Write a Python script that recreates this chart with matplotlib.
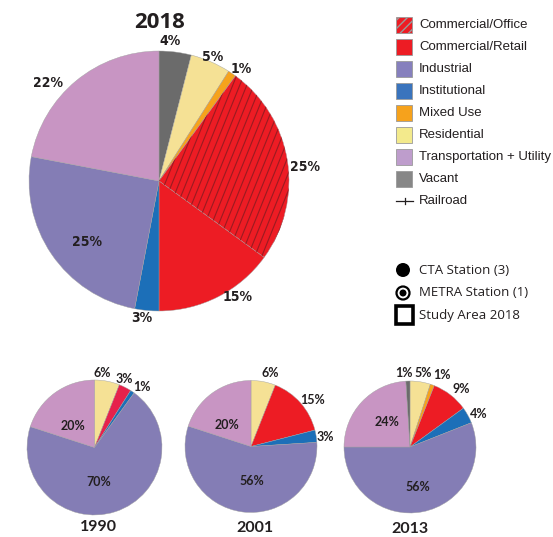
import matplotlib.pyplot as plt
from matplotlib.patches import Rectangle, Circle
from matplotlib.collections import LineCollection
import numpy as np

# land use categories, in clockwise order from 12 o'clock
categories = ['Vacant', 'Residential', 'Mixed Use', 'Commercial/Office',
              'Commercial/Retail', 'Institutional', 'Industrial',
              'Transportation + Utility']
share_2018 = [4, 5, 1, 25, 15, 3, 25, 22]

cats_1990 = ['Residential', 'Commercial/Retail', 'Institutional', 'Industrial',
             'Transportation + Utility']
share_1990 = [6, 3, 1, 70, 20]

cats_2001 = ['Residential', 'Commercial/Retail', 'Institutional', 'Industrial',
             'Transportation + Utility']
share_2001 = [6, 15, 3, 56, 20]

cats_2013 = ['Residential', 'Mixed Use', 'Commercial/Retail', 'Institutional',
             'Industrial', 'Transportation + Utility', 'Vacant']
share_2013 = [5, 1, 9, 4, 56, 24, 1]

legend_items = ['Commercial/Office', 'Commercial/Retail', 'Industrial',
                'Institutional', 'Mixed Use', 'Residential',
                'Transportation + Utility', 'Vacant']
station_items = ['CTA Station (3)', 'METRA Station (1)', 'Study Area 2018']

colors = {
    'Commercial/Office': '#ed1c24',
    'Commercial/Retail': '#ed1c24',
    'Industrial': '#847db5',
    'Institutional': '#1c6fb8',
    'Mixed Use': '#f6a21c',
    'Residential': '#f5e195',
    'Transportation + Utility': '#c895c3',
    'Vacant': '#6b6b6b',
}
legend_colors = dict(colors, **{'Residential': '#f3ea8c', 'Vacant': '#878787',
                                'Transportation + Utility': '#be9dcc',
                                'Industrial': '#8680bd', 'Institutional': '#3a74bd'})

W, H = 553, 537
fig = plt.figure(figsize=(W / 100, H / 100), dpi=100)
dark = '#231f20'


def pie_axes(cx, cy, r):
    return fig.add_axes([(cx - 1.25 * r) / W, 1 - (cy + 1.25 * r) / H, 2.5 * r / W, 2.5 * r / H])


# label placement: (radius, angle nudge in degrees, clockwise positive)
def draw_pie(ax, cats, vals, place, font, size, cmap=colors, **kw):
    cols = [cmap[c] for c in cats]
    wedges, _ = ax.pie(vals, colors=cols, startangle=90, counterclock=False,
                       wedgeprops=dict(edgecolor='#a0a0a0', linewidth=0.3), frame=True)
    ax.set_xlim(-1.25, 1.25)
    ax.set_ylim(-1.25, 1.25)
    ax.set_aspect('equal')
    ax.axis('off')
    total = float(sum(vals))
    cum = np.cumsum([0] + list(vals))
    for i, v in enumerate(vals):
        d, nudge = place[i]
        mid = (cum[i] + cum[i + 1]) / 2 / total
        th = np.deg2rad(90 - 360 * mid - nudge)
        ax.text(d * np.cos(th), d * np.sin(th), '%d%%' % v, ha='center', va='center',
                fontsize=size, fontweight='bold', family=font, color=dark, **kw)
    return wedges


narrow = ['Liberation Sans Narrow', 'DejaVu Sans']

# main 2018 pie
ax = pie_axes(159, 181, 130)
wedges = draw_pie(ax, categories, share_2018,
                  [(1.08, -2.5), (1.04, 0), (1.07, 2), (1.13, 3.5), (1.08, -7),
                   (1.06, 2), (0.73, -6), (1.14, -9)],
                  narrow, 10, fontstretch='condensed')
# steep stripes on the office slice
office = wedges[categories.index('Commercial/Office')]
ang = np.deg2rad(68)
u = np.array([np.cos(ang), np.sin(ang)])
n = np.array([np.sin(ang), -np.cos(ang)])
segs = [[tuple(k * n - 1.5 * u), tuple(k * n + 1.5 * u)] for k in np.arange(-1.5, 1.5, 0.05)]
lc = LineCollection(segs, colors='#9a1b21', linewidths=0.8)
ax.add_collection(lc)
lc.set_clip_path(office)

fig.text(160 / W, 1 - 22 / H, '2018', ha='center', va='center', fontsize=16,
         fontweight='bold', family=['Open Sans', 'DejaVu Sans'], color=dark)

small_font = ['Lato', 'DejaVu Sans']
c1990 = dict(colors, **{'Commercial/Retail': '#e6224b'})
ax = pie_axes(94.5, 447.5, 67.5)
draw_pie(ax, cats_1990, share_1990,
         [(1.11, -5), (1.11, -3.5), (1.14, 4), (0.52, 11.5), (0.45, -8)],
         small_font, 9, cmap=c1990)
ax = pie_axes(251, 446.5, 66)
draw_pie(ax, cats_2001, share_2001,
         [(1.15, 4), (1.17, 4), (1.13, 2), (0.52, -9), (0.49, -12)],
         small_font, 9)
ax = pie_axes(410, 447, 66)
draw_pie(ax, cats_2013, share_2013,
         [(1.14, 1), (1.19, 4), (1.17, 4), (1.15, 3), (0.62, 0), (0.51, 4), (1.13, -3)],
         small_font, 9)

for x, y, t in [(98, 527, '1990'), (255, 528, '2001'), (410, 529, '2013')]:
    fig.text(x / W, 1 - y / H, t, ha='center', va='center', fontsize=11.5,
             fontweight='bold', family=small_font, color=dark)

# legend drawn in pixel space
lg = fig.add_axes([0, 0, 1, 1])
lg.set_xlim(0, W)
lg.set_ylim(H, 0)
lg.axis('off')
lg.patch.set_alpha(0)
for i, name in enumerate(legend_items):
    y = 25 + 22 * i
    lg.add_patch(Rectangle((396, y - 8), 16, 16, facecolor=legend_colors[name],
                           edgecolor='#9a9a9a', linewidth=0.6,
                           hatch='////' if name == 'Commercial/Office' else None))
    lg.text(419, y, name, va='center', ha='left', fontsize=9.5,
            family=['Liberation Sans', 'DejaVu Sans'], color=dark)
lg.plot([396, 413], [201, 201], color=dark, lw=0.9)
lg.plot([404.5, 404.5], [198, 204], color=dark, lw=0.9)
lg.text(419, 201, 'Railroad', va='center', ha='left', fontsize=9.5,
        family=['Liberation Sans', 'DejaVu Sans'], color=dark)

st_font = ['Open Sans', 'DejaVu Sans']
lg.add_patch(Circle((403, 270), 7, facecolor='black', edgecolor='none'))
lg.add_patch(Circle((403, 293), 6.5, facecolor='white', edgecolor='black', linewidth=1.6))
lg.add_patch(Circle((403, 293), 3.5, facecolor='black', edgecolor='none'))
lg.add_patch(Rectangle((395.5, 306), 17, 18, facecolor='white', edgecolor='black', linewidth=2.6))
for y, t in zip([270, 293, 315], station_items):
    lg.text(419, y, t, va='center', ha='left', fontsize=9.5, family=st_font, color=dark)

fig.savefig('out.png', dpi=100)
